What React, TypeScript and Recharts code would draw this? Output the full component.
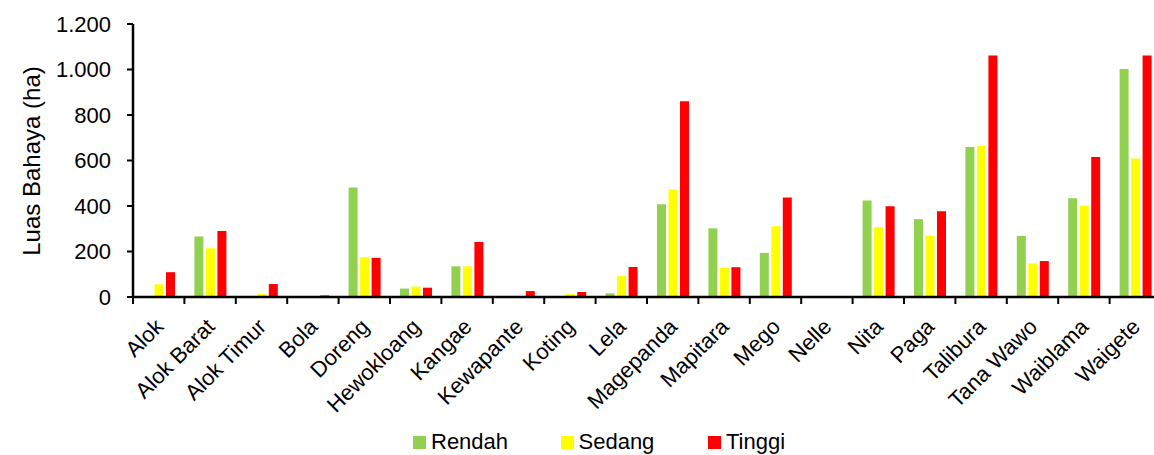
import React from 'react';
import { BarChart, Bar, XAxis, YAxis, Legend } from 'recharts';

// Luas bahaya per desa/kelurahan (ha)
const desa = [
  'Alok', 'Alok Barat', 'Alok Timur', 'Bola', 'Doreng', 'Hewokloang', 'Kangae',
  'Kewapante', 'Koting', 'Lela', 'Magepanda', 'Mapitara', 'Mego', 'Nelle',
  'Nita', 'Paga', 'Talibura', 'Tana Wawo', 'Waiblama', 'Waigete',
];
const rendah = [0, 266, 3, 0, 481, 37, 135, 0, 0, 16, 408, 302, 194, 0, 424, 342, 659, 268, 434, 1002];
const sedang = [56, 214, 13, 3, 175, 46, 135, 0, 13, 92, 473, 128, 311, 0, 307, 270, 665, 148, 402, 609];
const tinggi = [109, 290, 57, 7, 172, 41, 242, 26, 22, 132, 860, 131, 437, 2, 399, 377, 1061, 158, 615, 1061];
const yTicks = [0, 200, 400, 600, 800, 1000, 1200];

const data = desa.map((nama, i) => ({
  nama,
  rendah: rendah[i],
  sedang: sedang[i],
  tinggi: tinggi[i],
}));

const FONT = 'Liberation Sans, Arial, sans-serif';
const CHART_W = 1175;
const MARGIN = { top: 24, right: 14, left: 0, bottom: 0 };
const Y_W = 133;
const HALF_BAND = (CHART_W - MARGIN.right - MARGIN.left - Y_W) / desa.length / 2;

const fmt = (v: number) => v.toLocaleString('de-DE');

const XTick = (props: any) => {
  const { x, y, payload } = props;
  const tx = x - 5;
  const ty = y + 9;
  return (
    <g>
      <line x1={x - HALF_BAND} y1={y - 11} x2={x - HALF_BAND} y2={y - 4} stroke="#000" strokeWidth={2} />
      <text
        x={tx}
        y={ty}
        transform={`rotate(-45 ${tx} ${ty})`}
        textAnchor="end"
        dy="0.71em"
        fontSize={22}
        fontFamily={FONT}
        fill="#000"
      >
        {payload.value}
      </text>
    </g>
  );
};

const LegendBox = (props: any) => {
  const { payload } = props;
  return (
    <div style={{ display: 'flex', marginLeft: 413, marginTop: 6, fontFamily: FONT, fontSize: 22, color: '#000' }}>
      {payload.map((p: any) => (
        <div key={p.value} style={{ display: 'flex', alignItems: 'center', width: 147.5 }}>
          <span style={{ width: 13, height: 13, background: p.color, marginRight: 5, display: 'inline-block' }} />
          <span>{p.value}</span>
        </div>
      ))}
    </div>
  );
};

export default function App() {
  return (
    <div style={{ position: 'absolute', left: 0, top: 0, width: 1154, height: 455, overflow: 'hidden', background: '#fff' }}>
      <BarChart width={CHART_W} height={455} data={data} margin={MARGIN} barSize={9} barGap={2.5}>
        <XAxis
          dataKey="nama"
          interval={0}
          height={126}
          tickLine={false}
          tickSize={7}
          tickMargin={4}
          axisLine={{ stroke: '#000', strokeWidth: 2.5 }}
          tick={<XTick />}
        />
        <YAxis
          width={Y_W}
          domain={[0, 1200]}
          ticks={yTicks}
          interval={0}
          tickFormatter={fmt}
          tickSize={6}
          tickMargin={16}
          axisLine={{ stroke: '#000', strokeWidth: 2.5 }}
          tickLine={{ stroke: '#000', strokeWidth: 2 }}
          tick={{ fill: '#000', fontSize: 22, fontFamily: FONT }}
          label={{
            content: () => (
              <text
                x={31}
                y={161}
                transform="rotate(-90 31 161)"
                textAnchor="middle"
                dominantBaseline="central"
                fontSize={24}
                fontFamily={FONT}
                fill="#000"
              >
                Luas Bahaya (ha)
              </text>
            ),
          }}
        />
        <Legend verticalAlign="bottom" height={32} wrapperStyle={{ left: 0, width: 1154 }} content={<LegendBox />} />
        <Bar dataKey="rendah" name="Rendah" fill="#92D050" isAnimationActive={false} />
        <Bar dataKey="sedang" name="Sedang" fill="#FFFF00" isAnimationActive={false} />
        <Bar dataKey="tinggi" name="Tinggi" fill="#FF0000" isAnimationActive={false} />
      </BarChart>
    </div>
  );
}
